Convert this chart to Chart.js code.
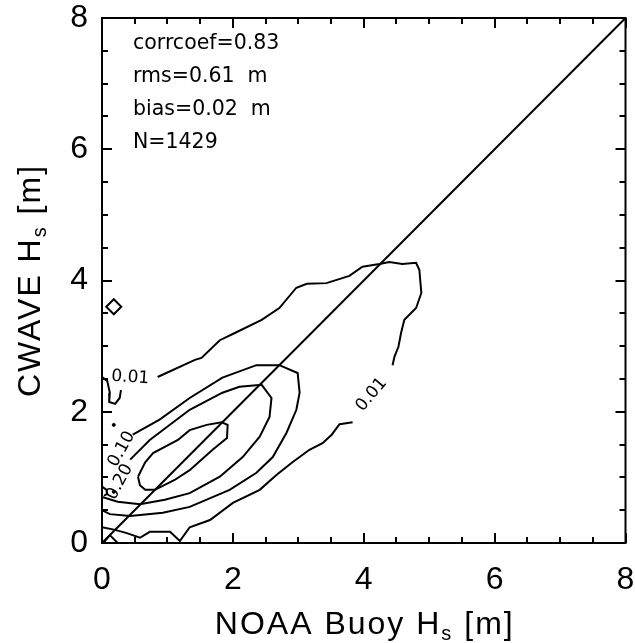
<!DOCTYPE html>
<html>
<head>
<meta charset="utf-8">
<script src="https://cdn.jsdelivr.net/npm/chart.js@4/dist/chart.umd.min.js"></script>
<style>
  html, body { margin: 0; padding: 0; background: #fff; }
  canvas { display: block; }
</style>
</head>
<body>
<canvas id="scatter-contour" width="635" height="643"></canvas>
<script>
// axis range and ticks
const axisMin = 0
const axisMax = 8
const tickStep = 0.5
const majorStep = 2

// summary statistics printed in the upper left corner
const statLines = [ 'corrcoef=0.83', 'rms=0.61  m', 'bias=0.02  m', 'N=1429' ]

// 1:1 reference line
const oneToOne = [ [0, 0], [8, 8] ]

// contour pieces, [buoy Hs, cwave Hs] in m (gaps where the labels sit)
const level001Upper = [
	[0.85, 2.53], [1.42, 2.79], [1.52, 2.82], [1.80, 3.09], [2.03, 3.20], [2.44, 3.40],
	[2.71, 3.58], [2.97, 3.89], [3.13, 3.95], [3.43, 3.96], [3.78, 4.07], [3.98, 4.21],
	[4.24, 4.25], [4.39, 4.28], [4.59, 4.25], [4.80, 4.27], [4.85, 4.16], [4.88, 3.81],
	[4.80, 3.58], [4.62, 3.40], [4.57, 3.20], [4.53, 2.99], [4.47, 2.84], [4.44, 2.71]
]
const level001Lower = [
	[3.83, 1.84], [3.63, 1.81], [3.51, 1.65], [3.37, 1.52], [3.17, 1.42], [2.91, 1.23],
	[2.67, 1.04], [2.41, 0.81], [2.00, 0.61], [1.65, 0.35], [1.34, 0.24], [1.19, 0.03],
	[1.04, 0.17], [0.73, 0.17], [0.58, 0.08], [0.38, 0.15], [0.20, 0.20], [0.00, 0.24]
]
const level001Left = [
	[0.00, 2.53], [0.08, 2.47], [0.12, 2.29], [0.11, 2.15], [0.20, 2.12], [0.27, 2.21], [0.29, 2.33]
]
const level010 = [
	[0.47, 1.65], [0.88, 1.88], [1.34, 2.21], [1.84, 2.52], [2.36, 2.71], [2.71, 2.71],
	[2.99, 2.59], [3.02, 2.29], [2.97, 2.03], [2.82, 1.68], [2.61, 1.31], [2.36, 1.07],
	[1.95, 0.81], [1.60, 0.66], [1.34, 0.55], [0.93, 0.46], [0.43, 0.41], [0.12, 0.44], [0.00, 0.50]
]
const level020 = [
	[0.43, 1.27], [0.73, 1.57], [1.34, 2.03], [1.84, 2.29], [2.10, 2.38], [2.44, 2.41],
	[2.59, 2.21], [2.56, 1.92], [2.41, 1.62], [2.15, 1.31], [1.80, 1.01], [1.34, 0.76],
	[0.96, 0.66], [0.58, 0.59], [0.24, 0.63], [0.00, 0.70]
]
const level030 = [
	[0.55, 1.01], [0.66, 1.23], [0.78, 1.37], [1.16, 1.57], [1.34, 1.72], [1.60, 1.80],
	[1.83, 1.84], [1.92, 1.80], [1.91, 1.60], [1.69, 1.42], [1.34, 1.11], [1.11, 0.96],
	[0.81, 0.81], [0.66, 0.81], [0.58, 0.88], [0.55, 1.01]
]
const cornerPiece = [ [0.02, 0.00], [0.12, 0.12], [0.24, 0.00] ]
const edgePiece = [ [0.00, 0.86], [0.07, 0.81], [0.08, 0.75], [0.03, 0.72] ]
const islands = [ [0.18, 1.80], [0.18, 0.78] ]
const outlier = [ [0.18, 3.60] ]

// contour labels: text, x, y, angle (deg)
const contourLabels = [
	[ '0.01', 0.43, 2.52, 4 ],
	[ '0.01', 4.12, 2.26, -50 ],
	[ '0.10', 0.30, 1.43, -61 ],
	[ '0.20', 0.27, 0.93, -62 ]
]

const toXY = pts => pts.map(p => ({ x: p[0], y: p[1] }))

function lineSet(pts) {
	return {
		data: toXY(pts),
		showLine: true,
		borderColor: '#000',
		borderWidth: 2,
		pointRadius: 0,
		tension: 0,
		fill: false
	}
}

const datasets = [
	lineSet(oneToOne),
	lineSet(level001Upper),
	lineSet(level001Lower),
	lineSet(level001Left),
	lineSet(level010),
	lineSet(level020),
	lineSet(level030),
	lineSet(cornerPiece),
	lineSet(edgePiece),
	{
		data: toXY(islands),
		showLine: false,
		pointRadius: 1.5,
		backgroundColor: '#000',
		borderColor: '#000',
		borderWidth: 1
	},
	{
		data: toXY(outlier),
		showLine: false,
		pointStyle: 'rectRot',
		pointRadius: 7.5,
		backgroundColor: 'rgba(0,0,0,0)',
		borderColor: '#000',
		borderWidth: 2
	}
]

// draws the closed frame, the inward ticks, the labels and the axis titles
const framePlugin = {
	id: 'frame',
	afterDatasetsDraw(chart) {
		const ctx = chart.ctx
		const a = chart.chartArea
		const xs = chart.scales.x
		const ys = chart.scales.y

		ctx.save()
		ctx.strokeStyle = '#000'
		ctx.lineWidth = 2
		ctx.beginPath()
		ctx.moveTo(a.left - 1, a.top)
		ctx.lineTo(a.right, a.top)
		ctx.lineTo(a.right, a.bottom + 1)
		ctx.stroke()

		ctx.beginPath()
		xs.ticks.forEach(t => {
			const px = Math.round(xs.getPixelForValue(t.value))
			const len = t.value % majorStep === 0 ? 10 : 6
			ctx.moveTo(px, a.bottom); ctx.lineTo(px, a.bottom - len)
			ctx.moveTo(px, a.top); ctx.lineTo(px, a.top + len)
		})
		ys.ticks.forEach(t => {
			const py = Math.round(ys.getPixelForValue(t.value))
			const len = t.value % majorStep === 0 ? 10 : 6
			ctx.moveTo(a.left, py); ctx.lineTo(a.left + len, py)
			ctx.moveTo(a.right, py); ctx.lineTo(a.right - len, py)
		})
		ctx.stroke()

		// statistics
		ctx.fillStyle = '#000'
		ctx.font = '20.5px "DejaVu Sans"'
		ctx.textAlign = 'left'
		ctx.textBaseline = 'middle'
		statLines.forEach((s, i) => {
			ctx.fillText(s, a.left + 31, a.top + 26 + i * 33)
		})

		// contour labels
		ctx.font = '17px "DejaVu Sans"'
		ctx.textAlign = 'center'
		contourLabels.forEach(l => {
			ctx.save()
			ctx.translate(xs.getPixelForValue(l[1]), ys.getPixelForValue(l[2]))
			ctx.rotate(l[3] * Math.PI / 180)
			ctx.fillText(l[0], 0, 0)
			ctx.restore()
		})

		// axis titles with subscript
		drawTitle(ctx, 'NOAA Buoy H', ' [m]', (a.left + a.right) / 2 + 1, 623, 0)
		drawTitle(ctx, 'CWAVE H', ' [m]', 29, (a.top + a.bottom) / 2, -Math.PI / 2)
		ctx.restore()
	}
}

function drawTitle(ctx, head, tail, cx, cy, rot) {
	const big = '32px "Liberation Sans"'
	const small = '20px "Liberation Sans"'
	ctx.save()
	ctx.letterSpacing = '2px'
	ctx.textAlign = 'left'
	ctx.textBaseline = 'alphabetic'
	ctx.font = big
	const w1 = ctx.measureText(head).width
	const w3 = ctx.measureText(tail).width
	ctx.font = small
	const w2 = ctx.measureText('s').width
	const total = w1 + w2 + w3
	ctx.translate(cx, cy)
	ctx.rotate(rot)
	let x = -total / 2
	const base = 11
	ctx.font = big
	ctx.fillText(head, x, base)
	x += w1
	ctx.font = small
	ctx.fillText('s', x, base + 6)
	x += w2
	ctx.font = big
	ctx.fillText(tail, x, base)
	ctx.restore()
}

function axisOptions(isX) {
	return {
		type: 'linear',
		min: axisMin,
		max: axisMax,
		grid: { display: false, drawTicks: false },
		border: { display: true, color: '#000', width: 2 },
		ticks: {
			stepSize: tickStep,
			autoSkip: false,
			maxRotation: 0,
			padding: isX ? 18 : 14,
			color: '#000',
			font: { family: 'Liberation Sans', size: 32 },
			callback: v => (v % majorStep === 0 ? String(v) : '')
		},
		afterFit: s => {
			if (isX) {
				s.height = 100
				s.paddingLeft = 0
				s.paddingRight = 0
			} else {
				s.width = 102
				s.paddingTop = 0
				s.paddingBottom = 0
			}
		}
	}
}

function plotGraph() {
	const ctx = document.getElementById('scatter-contour').getContext('2d')
	new Chart(ctx, {
		type: 'scatter',
		data: { datasets: datasets },
		plugins: [ framePlugin ],
		options: {
			responsive: false,
			animation: false,
			events: [],
			layout: {
				padding: { left: 0, right: 8, top: 18, bottom: 0 }
			},
			plugins: {
				legend: { display: false },
				tooltip: { enabled: false }
			},
			scales: {
				x: axisOptions(true),
				y: axisOptions(false)
			}
		}
	})
}

plotGraph()
</script>
</body>
</html>
